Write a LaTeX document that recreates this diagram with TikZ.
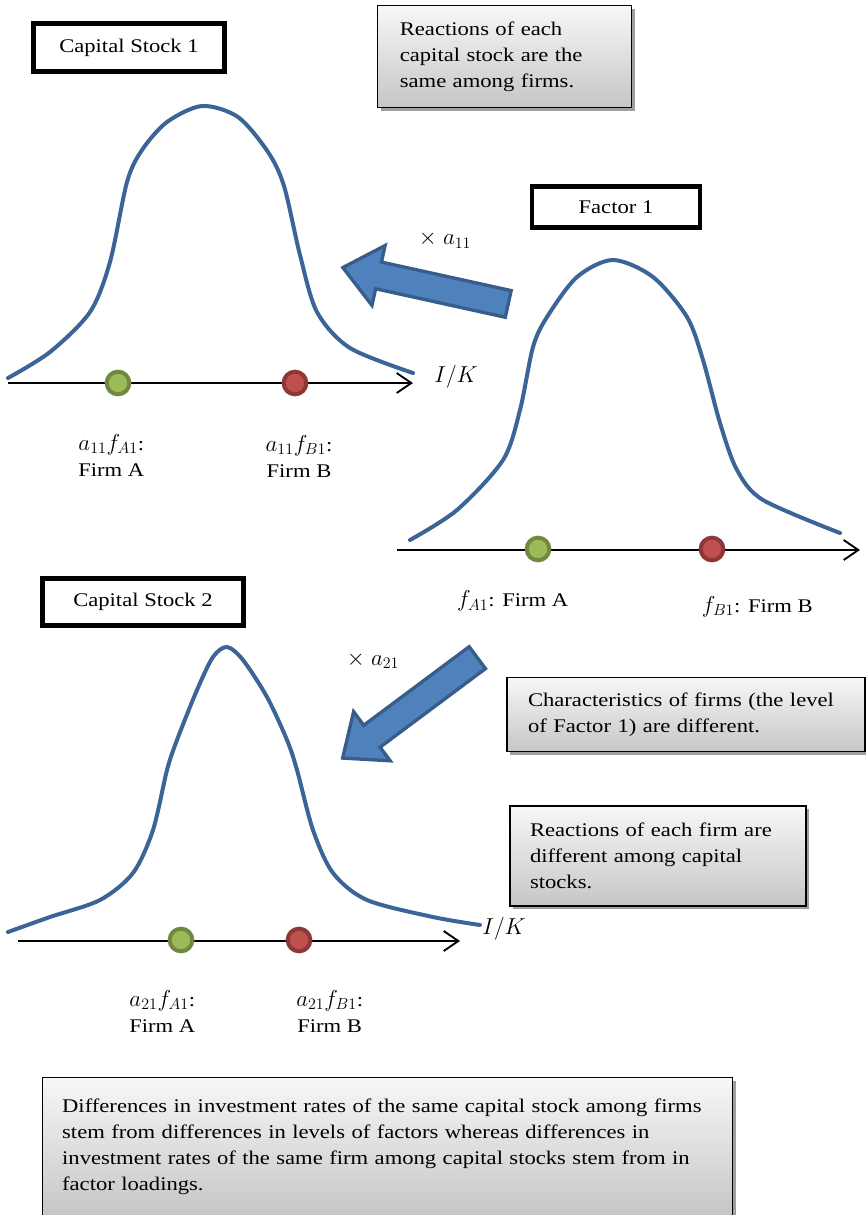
\documentclass[tikz,border=0pt]{standalone}
\usepackage{fontspec}
\setmainfont[FakeStretch=1.17]{Liberation Serif}
\DeclareMathSizes{14.5}{16}{12}{10}
\usetikzlibrary{shapes.arrows,arrows.meta,shadows,positioning}
\definecolor{curveblue}{HTML}{3B6497}
\definecolor{arrowblue}{HTML}{4F81BD}
\definecolor{arrowedge}{HTML}{385D8A}
\definecolor{greendot}{HTML}{9BBB59}
\definecolor{greenedge}{HTML}{71893F}
\definecolor{reddot}{HTML}{C0504D}
\definecolor{rededge}{HTML}{8C3836}
\begin{document}
\begin{tikzpicture}[x=0.75pt, y=-0.75pt, font=\fontsize{14.5}{19.5}\selectfont]
        \tikzstyle{title}=[draw, line width=3.5pt, fill=white, inner sep=0pt];
        \tikzstyle{note}=[draw, line width=0.9pt, top color=gray!6, bottom color=gray!45, drop shadow={shadow xshift=2.5pt, shadow yshift=-2.5pt, fill=gray!75, opacity=1}, align=left, inner ysep=0pt];
        \tikzstyle{curve}=[draw=curveblue, line width=3pt, line cap=round];
        \tikzstyle{axis}=[draw, line width=1.4pt, -{Straight Barb[length=11pt, width=15pt, line width=1.4pt]}];
        \tikzstyle{blockarrow}=[single arrow, draw=arrowedge, fill=arrowblue, line width=2.5pt, inner xsep=0pt, inner ysep=9pt, minimum width=43.5pt, single arrow head extend=12.75pt, single arrow tip angle=80];
        \tikzstyle{gdot}=[circle, draw=greenedge, fill=greendot, line width=3pt, minimum size=17pt, inner sep=0pt];
        \tikzstyle{rdot}=[circle, draw=rededge, fill=reddot, line width=3pt, minimum size=17pt, inner sep=0pt];
        \tikzstyle{dotlabel}=[align=center, inner sep=0pt];

        \useasboundingbox (0,0) rectangle (865,1215);

        \node[title, minimum width=143pt, minimum height=36pt] (cs1) at (129,47.5) {Capital Stock 1};
        \node[title, minimum width=126pt, minimum height=31pt] (fac1) at (616,207) {Factor 1};
        \node[title, minimum width=151pt, minimum height=35pt] (cs2) at (143,602) {Capital Stock 2};

        \node[note, text width=157pt, inner xsep=16.5pt, minimum height=76pt] (samecap) at (504.5,56.5) {Reactions of each\\capital stock are the\\same among firms.};
        \node[note, text width=237pt, inner xsep=15.75pt, minimum height=56pt] (charfirm) at (686,714.5) {Characteristics of firms (the level\\of Factor 1) are different.};
        \node[note, text width=192pt, inner xsep=15pt, minimum height=75pt] (difffirm) at (658,856) {Reactions of each firm are\\different among capital\\stocks.};
        \node[note, text width=488pt, inner xsep=15pt, minimum height=104pt] (summary) at (387.5,1146.5) {Differences in investment rates of the same capital stock among firms\\stem from differences in levels of factors whereas differences in\\investment rates of the same firm among capital stocks stem from in\\factor loadings.};

        \draw[curve] plot[smooth] coordinates {(8,378) (50,352) (90,312) (110,262) (127,182) (142,150) (167,122) (202,106) (238,117) (268,152) (284,186) (300,255) (317,312) (350,348) (413,373)};
        \draw[curve] plot[smooth] coordinates {(410,540) (457,510) (503,460) (520,410) (533,347) (547,317) (577,277) (613,260) (653,277) (687,317) (703,360) (720,423) (737,470) (763,500) (840,533)};
        \draw[curve] plot[smooth] coordinates {(8,932) (50,917) (100,900) (133,873) (153,830) (167,770) (177,740) (197,690) (213,657) (227,647) (243,660) (267,697) (287,740) (297,770) (313,830) (333,873) (367,900) (433,917) (480,925)};

        \coordinate (ax1l) at (8,383);
        \coordinate (ax1r) at (413,383);
        \coordinate (ax2l) at (397,550);
        \coordinate (ax2r) at (860,550);
        \coordinate (ax3l) at (18,941);
        \coordinate (ax3r) at (460,941);
        \draw[axis] (ax1l) -- (ax1r);
        \draw[axis] (ax2l) -- (ax2r);
        \draw[axis] (ax3l) -- (ax3r);

        \node (ik1) at (456,377) {$I/K$};
        \node (ik2) at (504,929) {$I/K$};

        \node[gdot] (fa1) at (118,383) {};
        \node[rdot] (fb1) at (295,383) {};
        \node[gdot] (fa) at (538,549) {};
        \node[rdot] (fb) at (712,549) {};
        \node[gdot] (fa2) at (181,940) {};
        \node[rdot] (fb2) at (299,940) {};

        \node[dotlabel, below=44pt of fa1, xshift=-5pt, anchor=center] (lfa1) {$a_{11}f_{A1}$:\\Firm A};
        \node[dotlabel, below=45pt of fb1, xshift=3pt, anchor=center] (lfb1) {$a_{11}f_{B1}$:\\Firm B};
        \node[dotlabel, below=29pt of fa, xshift=-19pt, anchor=center] (lfa) {$f_{A1}$: Firm A};
        \node[dotlabel, below=33pt of fb, xshift=34pt, anchor=center] (lfb) {$f_{B1}$: Firm B};
        \node[dotlabel, below=43.5pt of fa2, xshift=-14pt, anchor=center] (lfa2) {$a_{21}f_{A1}$:\\Firm A};
        \node[dotlabel, below=43.5pt of fb2, xshift=23pt, anchor=center] (lfb2) {$a_{21}f_{B1}$:\\Firm B};

        \node[blockarrow, minimum height=127pt, rotate=167.6] (mul1) at (433.5,287.5) {};
        \node[blockarrow, minimum height=126pt, rotate=216.7] (mul2) at (416.5,703) {};
        \node (xa11) at (445,240) {$\times\;a_{11}$};
        \node (xa21) at (373,660) {$\times\;a_{21}$};
\end{tikzpicture}
\end{document}
